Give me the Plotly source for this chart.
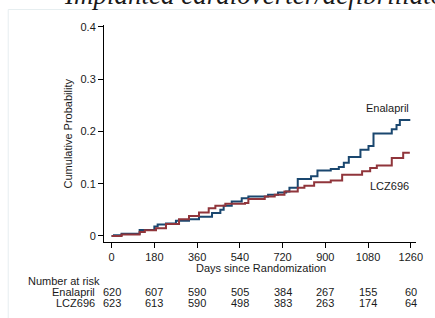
import plotly.graph_objects as go

# ---- data ----
ena_days = [0, 10, 42, 118, 180, 194, 229, 271, 326, 368, 423, 458, 472, 506, 548, 576,
            659, 701, 735, 749, 784, 840, 867, 923, 957, 978, 999, 1048, 1082, 1103, 1180,
            1200, 1214, 1258]
ena_prob = [0, 0.0015, 0.0045, 0.0115, 0.018, 0.022, 0.024, 0.029, 0.032, 0.037, 0.044,
            0.050, 0.058, 0.066, 0.072, 0.0756, 0.079, 0.083, 0.085, 0.092, 0.109, 0.114,
            0.125, 0.128, 0.132, 0.140, 0.151, 0.165, 0.172, 0.196, 0.204, 0.212, 0.222, 0.222]

lcz_days = [0, 42, 118, 140, 187, 229, 284, 326, 368, 409, 437, 479, 562, 576, 645, 687,
            728, 784, 812, 853, 923, 971, 1055, 1089, 1117, 1180, 1228, 1256]
lcz_prob = [0, 0.003, 0.0077, 0.011, 0.015, 0.023, 0.032, 0.038, 0.045, 0.053, 0.058,
            0.0615, 0.063, 0.0705, 0.0756, 0.079, 0.085, 0.092, 0.096, 0.1026, 0.106, 0.117,
            0.124, 0.130, 0.135, 0.149, 0.159, 0.159]

x_ticks = [0, 180, 360, 540, 720, 900, 1080, 1260]
y_ticks = [0, 0.1, 0.2, 0.3, 0.4]
y_tick_labels = ["0", "0.1", "0.2", "0.3", "0.4"]

risk_groups = ["Enalapril", "LCZ696"]
risk_enalapril = [620, 607, 590, 505, 384, 267, 155, 60]
risk_lcz696 = [623, 613, 590, 498, 383, 263, 174, 64]

title_text = "Implanted cardioverter/defibrillator"

# ---- layout geometry (pixels) ----
W, H = 435, 318
L, R, T, B = 104, 15, 25, 76
PW, PH = W - L - R, H - T - B


def px_x(px):
    return (px - L) / PW


def px_y(py):
    return (H - B - py) / PH


NAVY = "#1a476f"
MAROON = "#90353b"
FONT = "Liberation Sans, Arial, sans-serif"
TXT = "#1a1a1a"

fig = go.Figure()
fig.add_trace(go.Scatter(x=ena_days, y=ena_prob, mode="lines", line_shape="hv",
                         line=dict(color=NAVY, width=2), name="Enalapril",
                         showlegend=False))
fig.add_trace(go.Scatter(x=lcz_days, y=lcz_prob, mode="lines", line_shape="hv",
                         line=dict(color=MAROON, width=2), name="LCZ696",
                         showlegend=False))

annotations = []
# curve labels
annotations.append(dict(x=1260, y=0.245, xref="x", yref="y", text="Enalapril",
                        showarrow=False, xanchor="right", yanchor="middle",
                        font=dict(family=FONT, size=11, color=TXT)))
annotations.append(dict(x=1260, y=0.0956, xref="x", yref="y", text="LCZ696",
                        showarrow=False, xanchor="right", yanchor="middle",
                        font=dict(family=FONT, size=11, color=TXT)))
# y axis title
annotations.append(dict(x=px_x(68), y=px_y(133), xref="paper", yref="paper",
                        text="Cumulative Probability", textangle=-90, showarrow=False,
                        xanchor="center", yanchor="middle",
                        font=dict(family=FONT, size=11, color=TXT)))
# x axis title
annotations.append(dict(x=px_x(263), y=px_y(267.5), xref="paper", yref="paper",
                        text="Days since Randomization", showarrow=False,
                        xanchor="center", yanchor="middle",
                        font=dict(family=FONT, size=11, color=TXT)))
# number at risk
annotations.append(dict(x=px_x(25), y=px_y(281), xref="paper", yref="paper",
                        text="Number at risk", showarrow=False,
                        xanchor="left", yanchor="middle",
                        font=dict(family=FONT, size=11, color=TXT)))
for name, vals, py in [(risk_groups[0], risk_enalapril, 292),
                       (risk_groups[1], risk_lcz696, 303)]:
    annotations.append(dict(x=px_x(97), y=px_y(py), xref="paper", yref="paper",
                            text=name, showarrow=False, xanchor="right", yanchor="middle",
                            font=dict(family=FONT, size=11, color=TXT)))
    for d, v in zip(x_ticks, vals):
        annotations.append(dict(x=d, y=px_y(py), xref="x", yref="paper",
                                text=str(v), showarrow=False, xanchor="center",
                                yanchor="middle",
                                font=dict(family=FONT, size=11, color=TXT)))
# cut-off title at the top
annotations.append(dict(x=px_x(61), y=px_y(-5), xref="paper", yref="paper",
                        text="<i>" + title_text + "</i>", showarrow=False,
                        xanchor="left", yanchor="middle",
                        font=dict(family="Liberation Serif, serif", size=27, color=TXT)))

shapes = [
    dict(type="line", xref="paper", yref="paper", x0=px_x(7), x1=px_x(436),
         y0=px_y(9.5), y1=px_y(9.5), line=dict(color="#e6eef0", width=1)),
    dict(type="line", xref="paper", yref="paper", x0=px_x(7), x1=px_x(7),
         y0=px_y(9.5), y1=px_y(319), line=dict(color="#e6eef0", width=1)),
]

fig.update_layout(
    width=W, height=H,
    margin=dict(l=L, r=R, t=T, b=B),
    paper_bgcolor="white", plot_bgcolor="white",
    annotations=annotations, shapes=shapes,
    hovermode=False,
    xaxis=dict(range=[-32, 1282], tickvals=x_ticks, ticktext=[str(t) for t in x_ticks],
               showgrid=False, zeroline=False, showline=True, linecolor="black",
               linewidth=1, ticks="outside", ticklen=5, tickcolor="black",
               tickfont=dict(family=FONT, size=11, color=TXT)),
    yaxis=dict(range=[-0.0115, 0.4034], tickvals=y_ticks, ticktext=y_tick_labels,
               showgrid=False, zeroline=False, showline=True, linecolor="black",
               linewidth=1, ticks="outside", ticklen=5, tickcolor="black",
               tickfont=dict(family=FONT, size=11, color=TXT)),
)

fig.write_html(
    "out.html",
    config={"displayModeBar": False, "staticPlot": True},
    post_script="document.body.style.margin='0';document.body.style.overflow='hidden';",
)
